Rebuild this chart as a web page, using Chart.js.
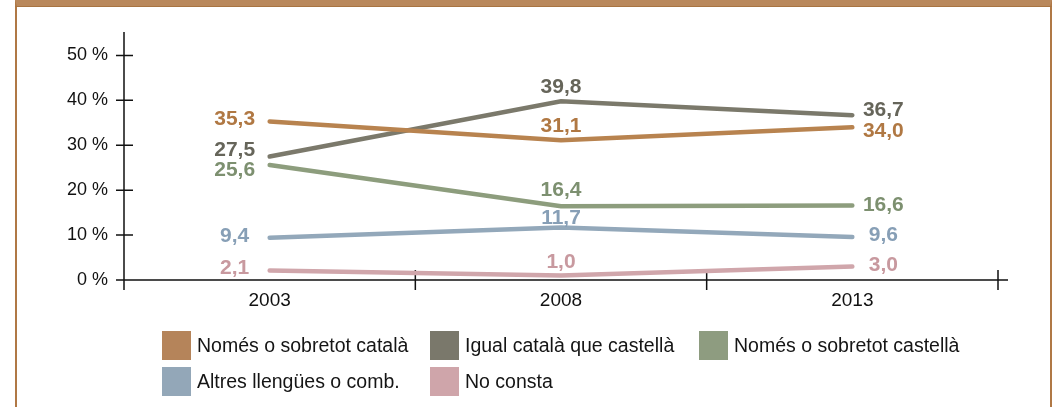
<!DOCTYPE html>
<html>
<head>
<meta charset="utf-8">
<script src="https://cdn.jsdelivr.net/npm/chart.js@4"></script>
<style>
  html, body { margin: 0; padding: 0; background: #fff; }
  body { width: 1055px; height: 407px; position: relative; overflow: hidden; font-family: "Liberation Sans", Arial, sans-serif; }
  #frame { position: absolute; left: 15px; top: 0; width: 1033px; height: 420px; border-left: 2px solid #b07845; border-right: 2px solid #b07845; border-top: 6px solid #b9885c; }
  #frameline { position: absolute; left: 15px; top: 6px; width: 1037px; height: 1px; background: #a87442; }
  #chart { position: absolute; left: 0; top: 0; }
  .leg { position: absolute; display: flex; align-items: center; font-size: 19.5px; color: #151515; white-space: nowrap; }
  .leg span.box { display: inline-block; width: 29px; height: 29px; margin-right: 6px; }
</style>
</head>
<body>
<div id="frame"></div>
<div id="frameline"></div>
<canvas id="chart" width="1055" height="407"></canvas>
<div id="legend"></div>
<script>
const years = ['2003', '2008', '2013']
const seriesNames = ['Només o sobretot català', 'Igual català que castellà', 'Només o sobretot castellà', 'Altres llengües o comb.', 'No consta']
const nomesCatala = [35.3, 31.1, 34.0]
const igualCatalaCastella = [27.5, 39.8, 36.7]
const nomesCastella = [25.6, 16.4, 16.6]
const altresLlengues = [9.4, 11.7, 9.6]
const noConsta = [2.1, 1.0, 3.0]
const yTicks = [0, 10, 20, 30, 40, 50]

const lineColors = ['#b8834f', '#7b796b', '#8d9d7d', '#93a8ba', '#d0a6ab']
const textColors = ['#b07843', '#66655a', '#7d9070', '#879fb6', '#c8999f']
const boxColors = ['#b5845a', '#7a786b', '#8e9c80', '#93a7b8', '#cfa5aa']

// label placement (px) relative to each point
const labelDx = [-35, 0, 31]
const labelDy = [
  [-2, -14, 4],
  [-6, -14, -5],
  [5, -16, 0],
  [-2, -9, -2],
  [-2, -13, -1.5]
]

const allSeries = [nomesCatala, igualCatalaCastella, nomesCastella, altresLlengues, noConsta]
const fontFam = '"Liberation Sans", Arial, sans-serif'

const axesPlugin = {
  id: 'axesCross',
  beforeDatasetsDraw(chart) {
    const ctx = chart.ctx
    const x = chart.scales.x
    const y = chart.scales.y
    const a = chart.chartArea
    ctx.save()
    ctx.strokeStyle = '#111'
    ctx.lineWidth = 1.5
    ctx.beginPath()
    // y axis
    ctx.moveTo(a.left, a.top - 1)
    ctx.lineTo(a.left, a.bottom + 10)
    // x axis
    ctx.moveTo(a.left - 8, a.bottom)
    ctx.lineTo(a.right + 10, a.bottom)
    yTicks.forEach(v => {
      const py = y.getPixelForValue(v)
      ctx.moveTo(a.left - 8, py)
      ctx.lineTo(a.left + 9, py)
    })
    const n = years.length
    for (let i = 0; i <= n; i++) {
      const px = x.left + i * (x.width / n)
      ctx.moveTo(px, a.bottom - 10)
      ctx.lineTo(px, a.bottom + 10)
    }
    ctx.stroke()
    ctx.restore()
  }
}

const labelPlugin = {
  id: 'valueLabels',
  afterDatasetsDraw(chart) {
    const ctx = chart.ctx
    ctx.save()
    ctx.font = 'bold 21px ' + fontFam
    ctx.textAlign = 'center'
    ctx.textBaseline = 'middle'
    chart.data.datasets.forEach((ds, si) => {
      const meta = chart.getDatasetMeta(si)
      ctx.fillStyle = textColors[si]
      meta.data.forEach((pt, i) => {
        const txt = ds.data[i].toFixed(1).replace('.', ',')
        ctx.fillText(txt, pt.x + labelDx[i], pt.y + labelDy[si][i])
      })
    })
    ctx.restore()
  }
}

const ctx = document.getElementById('chart')
new Chart(ctx, {
  type: 'line',
  data: {
    labels: years,
    datasets: allSeries.map((d, i) => ({
      label: seriesNames[i],
      data: d,
      borderColor: lineColors[i],
      borderWidth: 4.5,
      borderCapStyle: 'round',
      borderJoinStyle: 'miter',
      pointRadius: 0,
      tension: 0,
      fill: false
    }))
  },
  options: {
    responsive: false,
    animation: false,
    layout: { padding: { left: 0, right: 57, top: 33, bottom: 87 } },
    plugins: {
      legend: { display: false },
      tooltip: { enabled: false }
    },
    scales: {
      x: {
        type: 'category',
        offset: true,
        grid: { display: false, drawTicks: false },
        border: { display: false },
        ticks: { color: '#111', padding: 9, font: { family: fontFam, size: 19 } },
        afterFit(scale) { scale.height = 40 }
      },
      y: {
        min: 0,
        max: 55,
        grid: { display: false, drawTicks: false },
        border: { display: false },
        afterBuildTicks(scale) { scale.ticks = yTicks.map(v => ({ value: v })) },
        ticks: {
          color: '#111',
          padding: 16,
          font: { family: fontFam, size: 18 },
          callback: v => v + ' %'
        },
        afterFit(scale) { scale.width = 124 }
      }
    }
  },
  plugins: [axesPlugin, labelPlugin]
})

// legend grid, built from the series names
const legCols = [162, 430, 699]
const legRows = [331, 367]
const legend = document.getElementById('legend')
seriesNames.forEach((name, i) => {
  const el = document.createElement('div')
  el.className = 'leg'
  el.style.left = legCols[i % 3] + 'px'
  el.style.top = legRows[Math.floor(i / 3)] + 'px'
  el.innerHTML = '<span class="box" style="background:' + boxColors[i] + '"></span>' + name
  legend.appendChild(el)
})
</script>
</body>
</html>
